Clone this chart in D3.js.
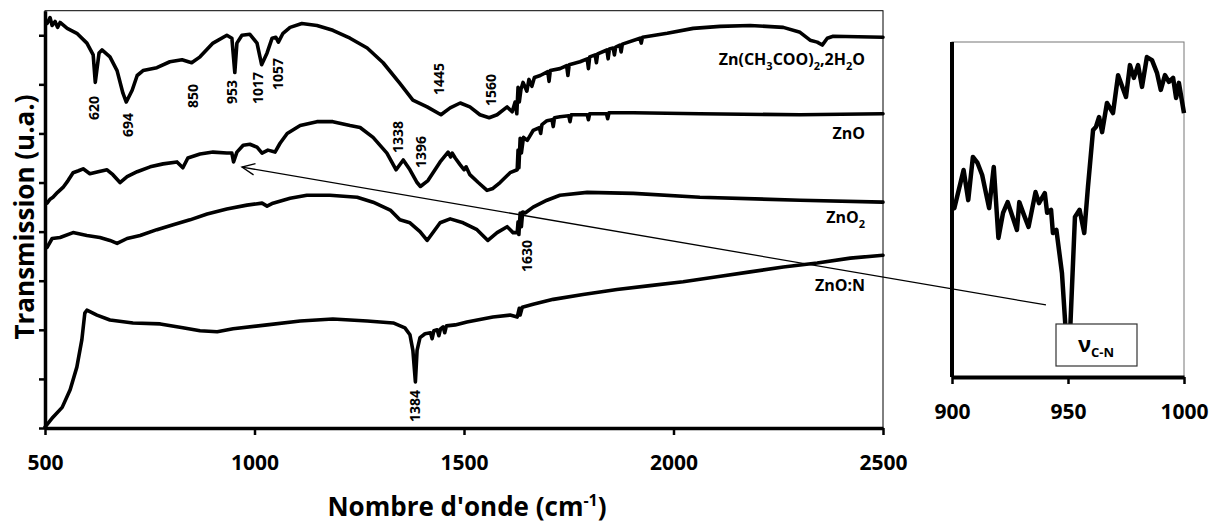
<!DOCTYPE html>
<html><head><meta charset="utf-8">
<script src="https://cdn.jsdelivr.net/npm/d3@7"></script>
<style>
body{margin:0;background:#fff}
svg{display:block}
text{font-family:'Open Sans','DejaVu Sans',sans-serif;font-weight:bold;fill:#000}
</style>
</head><body>
<svg id="chart" width="1219" height="529"></svg>
<script>
// ---- data (wavenumber cm-1, transmission u.a.) ----
const acetate = [[505,412],[512,418],[517,410],[524,414],[530,408],[536,413],[553,407],[576,402],[600,392],[615,380],[620,352],[629,382],[636,385],[655,378],[672,364],[686,341],[694,332],[708,344],[720,359],[734,364],[767,367],[798,373],[827,375],[850,372],[870,378],[901,392],[934,400],[946,397],[953,362],[958,392],[970,400],[989,401],[1006,392],[1017,370],[1030,382],[1042,397],[1051,398],[1057,393],[1068,402],[1085,408],[1113,412],[1149,410],[1187,405],[1228,397],[1269,387],[1307,372],[1347,351],[1378,334],[1412,327],[1445,319],[1467,326],[1491,331],[1514,327],[1538,319],[1560,316],[1579,319],[1603,327],[1615,322],[1622,332],[1626,320],[1629,347],[1632,332],[1636,345],[1641,352],[1650,343],[1655,355],[1662,348],[1668,357],[1682,359],[1700,363],[1703,353],[1706,364],[1729,366],[1745,369],[1748,359],[1751,370],[1777,373],[1794,376],[1797,366],[1800,378],[1813,380],[1816,372],[1819,381],[1841,385],[1844,376],[1847,386],[1856,387],[1859,380],[1862,388],[1872,390],[1875,383],[1878,391],[1920,397],[1923,392],[1926,398],[1985,402],[2047,407],[2111,409],[2183,410],[2262,408],[2302,403],[2326,395],[2343,393],[2355,390],[2367,397],[2381,399],[2500,398]];
const zno = [[505,229],[512,233],[519,235],[530,240],[543,245],[555,252],[567,260],[580,262],[591,264],[607,259],[627,261],[648,263],[662,258],[679,250],[696,256],[720,261],[751,266],[782,269],[815,271],[829,265],[841,275],[870,279],[901,281],[934,280],[946,280],[950,271],[958,281],[973,288],[989,289],[1006,286],[1018,280],[1032,283],[1049,281],[1061,290],[1078,300],[1109,308],[1149,312],[1187,312],[1228,308],[1252,306],[1283,296],[1316,280],[1338,263],[1355,273],[1371,263],[1388,250],[1396,246],[1414,252],[1443,271],[1462,281],[1468,276],[1472,280],[1479,275],[1491,268],[1500,263],[1505,266],[1514,258],[1534,250],[1555,242],[1569,244],[1586,250],[1610,260],[1627,263],[1629,283],[1631,265],[1634,295],[1637,280],[1642,296],[1651,293],[1665,303],[1680,306],[1683,300],[1686,309],[1698,313],[1710,314],[1713,307],[1716,316],[1729,317],[1750,318],[1753,312],[1756,319],[1794,319],[1797,314],[1800,320],[1840,320],[1843,315],[1846,321],[1904,321],[2063,320],[2302,319],[2500,320]];
const zno2 = [[505,184],[517,193],[536,194],[567,199],[600,196],[631,194],[655,191],[672,188],[696,193],[727,196],[767,202],[806,207],[846,212],[887,218],[934,223],[982,227],[1018,229],[1030,226],[1044,229],[1085,234],[1125,237],[1180,237],[1245,235],[1283,230],[1324,222],[1347,212],[1371,209],[1395,200],[1412,191],[1443,209],[1467,213],[1498,209],[1531,202],[1557,191],[1579,199],[1603,205],[1617,199],[1627,199],[1629,210],[1631,197],[1634,219],[1637,205],[1640,220],[1646,219],[1665,225],[1698,232],[1729,237],[1794,240],[1904,239],[2063,235],[2302,232],[2500,230]];
const znoN = [[500,1],[519,11],[541,21],[560,39],[576,62],[588,90],[595,117],[600,120],[624,115],[655,110],[710,107],[775,106],[829,102],[870,99],[911,98],[949,101],[1030,105],[1109,109],[1187,111],[1269,109],[1331,107],[1359,102],[1371,95],[1378,79],[1384,47],[1388,79],[1395,92],[1407,96],[1420,97],[1424,91],[1428,99],[1436,100],[1440,94],[1444,101],[1450,103],[1454,97],[1458,104],[1479,105],[1507,108],[1569,113],[1610,115],[1627,113],[1632,122],[1634,115],[1639,123],[1665,126],[1713,131],[1784,136],[1865,141],[1944,145],[2023,149],[2104,154],[2183,159],[2262,164],[2343,168],[2422,173],[2500,176]];
// inset: ZnO between 900 and 1000 cm-1
const insetZnO = [[900,50.7],[901,50.4],[905,61.8],[907,52.8],[909,65.7],[911,63.9],[913,60.3],[916,50.4],[918,62.7],[920,41.5],[922,49.0],[924,52.2],[928,43.9],[929,52.2],[931,48.4],[933,44.8],[936,55.2],[937.5,51.9],[940,54.9],[941,49.0],[942.7,49.9],[943.5,43.0],[945,43.9],[947.4,31.0],[949,14],[950,8],[951,15],[953,47.8],[955,49.9],[957,43.0],[958.6,56.7],[960.8,73.7],[962,74.6],[963.4,77.6],[964.7,73.1],[966.8,81.8],[969.4,78.8],[971.6,90.1],[975,83.6],[976.7,93.1],[978.4,89.3],[980.2,93.1],[981.9,86.6],[984,95.5],[986.2,94.6],[988.4,90.7],[990,85.7],[991.8,90.1],[993.5,88.1],[995.3,89.3],[996.6,83.3],[997.8,87.8],[1000,78.8]];
const xTicks = [500,1000,1500,2000,2500];
const yTicks = [0,50,100,150,200,250,300,350,400];
const insetTicks = [900,950,1000];
const peakLabels = ["620","694","850","953","1017","1057","1338","1396","1445","1560","1630","1384"];
const xTitle = "Nombre d'onde (cm";
const yTitle = "Transmission (u.a.)";

// ---- layout ----
const svg = d3.select("#chart");
const M = {l:45, r:883, t:10.7, b:428};
const I = {l:952, r:1184, t:42, b:377};
const x = d3.scaleLinear().domain([500,2500]).range([M.l,M.r]);
const y = d3.scaleLinear().domain([0,425]).range([M.b,M.t]);
const xi = d3.scaleLinear().domain([900,1000]).range([I.l,I.r]);
const yi = d3.scaleLinear().domain([0,100]).range([I.b,I.t]);
const FONT = "'Open Sans',sans-serif";

// main frame (thin top/right)
svg.append("rect").attr("x",M.l).attr("y",M.t).attr("width",M.r-M.l).attr("height",M.b-M.t)
  .attr("fill","none").attr("stroke","#000").attr("stroke-width",1);

const line = d3.line().x(d=>x(d[0])).y(d=>y(d[1]));
[acetate,zno,zno2,znoN].forEach(s=>{
  svg.append("path").datum(s).attr("d",line).attr("fill","none")
    .attr("stroke","#000").attr("stroke-width",3.6).attr("stroke-linejoin","round").attr("stroke-linecap","round");
});

// axes
const gx = svg.append("g").attr("transform",`translate(0,${M.b})`)
  .call(d3.axisBottom(x).tickValues(xTicks).tickSize(7).tickSizeOuter(0).tickFormat(d3.format("d")));
gx.select(".domain").attr("stroke-width",3.5);
gx.selectAll(".tick line").attr("stroke-width",2.5);
gx.selectAll(".tick text").attr("y",35).attr("dy","0.35em").style("font-size","21px").style("font-family",FONT).style("font-weight","bold");

const gy = svg.append("g").attr("transform",`translate(${M.l},0)`)
  .call(d3.axisLeft(y).tickValues(yTicks).tickSize(6).tickSizeOuter(0).tickFormat(""));
gy.select(".domain").attr("stroke-width",3.5);
gy.selectAll(".tick line").attr("stroke-width",2.5);

// axis titles
const xt = svg.append("text").attr("x",(M.l+M.r)/2+3).attr("y",516).attr("text-anchor","middle").style("font-size","26px").text(xTitle);
xt.append("tspan").attr("dy",-10).style("font-size","16px").text("-1");
xt.append("tspan").attr("dy",10).text(")");
svg.append("text").attr("transform","translate(34,217) rotate(-90)").attr("text-anchor","middle").style("font-size","26px").text(yTitle);

// series labels
function label(parts, yb){
  const t = svg.append("text").attr("x",865).attr("y",yb).attr("text-anchor","end").style("font-size","16px");
  parts.forEach(p=>{
    if(p.sub){ t.append("tspan").attr("dy",5).style("font-size","11px").text(p.s); }
    else { t.append("tspan").attr("dy",p.after? -5:0).text(p.s); }
  });
}
label([{s:"Zn(CH"},{s:"3",sub:1},{s:"COO)",after:1},{s:"2",sub:1},{s:",2H",after:1},{s:"2",sub:1},{s:"O",after:1}],65);
label([{s:"ZnO"}],139);
label([{s:"ZnO"},{s:"2",sub:1}],223);
label([{s:"ZnO:N"}],291);

// peak labels
const peakOffsets = [[-1,108],[2,125],[1,96],[-3,92],[-4,88],[0,74],[2,137],[1,152],[-2,79],[2,90],[8,256],[0,406]];
peakLabels.forEach((p,i)=>{
  const [dx,cy] = peakOffsets[i];
  svg.append("text").attr("transform",`translate(${x(+p)+dx},${cy}) rotate(-90)`)
    .attr("text-anchor","middle").attr("dy","0.36em").style("font-size","14px").text(p);
});

// inset
svg.append("rect").attr("x",I.l).attr("y",I.t).attr("width",I.r-I.l).attr("height",I.b-I.t)
  .attr("fill","none").attr("stroke","#777").attr("stroke-width",1);
const lineI = d3.line().x(d=>xi(d[0])).y(d=>yi(d[1]));
svg.append("path").datum(insetZnO).attr("d",lineI).attr("fill","none")
  .attr("stroke","#000").attr("stroke-width",4.5).attr("stroke-linejoin","round");
const gxi = svg.append("g").attr("transform",`translate(0,${I.b})`)
  .call(d3.axisBottom(xi).tickValues(insetTicks).tickSize(7).tickSizeOuter(0).tickFormat(d3.format("d")));
gxi.select(".domain").attr("stroke-width",4);
gxi.selectAll(".tick line").attr("stroke-width",2.5);
gxi.selectAll(".tick text").attr("y",35).attr("dy","0.35em").style("font-size","21px").style("font-family",FONT).style("font-weight","bold");
svg.append("line").attr("x1",I.l).attr("x2",I.l).attr("y1",I.t).attr("y2",I.b).attr("stroke","#000").attr("stroke-width",4);

// arrow from inset to ZnO band
const a0 = [xi(940.5), yi(21.5)], a1 = [x(970), y(265.7)];
svg.append("line").attr("x1",a0[0]).attr("y1",a0[1]).attr("x2",a1[0]).attr("y2",a1[1]).attr("stroke","#000").attr("stroke-width",1.3);
const ang = Math.atan2(a0[1]-a1[1], a0[0]-a1[0]);
const hl = 14, ha = 0.42;
svg.append("path").attr("d",`M${a1[0]+hl*Math.cos(ang+ha)},${a1[1]+hl*Math.sin(ang+ha)}L${a1[0]},${a1[1]}L${a1[0]+hl*Math.cos(ang-ha)},${a1[1]+hl*Math.sin(ang-ha)}`)
  .attr("fill","none").attr("stroke","#000").attr("stroke-width",1.3);

// nu C-N box
svg.append("rect").attr("x",1056).attr("y",324).attr("width",81).attr("height",42).attr("fill","#fff").attr("stroke","#333").attr("stroke-width",1.2);
const nt = svg.append("text").attr("x",1096).attr("y",352).attr("text-anchor","middle").style("font-size","22px");
nt.append("tspan").text("ν");
nt.append("tspan").attr("dy",5).style("font-size","13px").text("C-N");
</script>
</body></html>
